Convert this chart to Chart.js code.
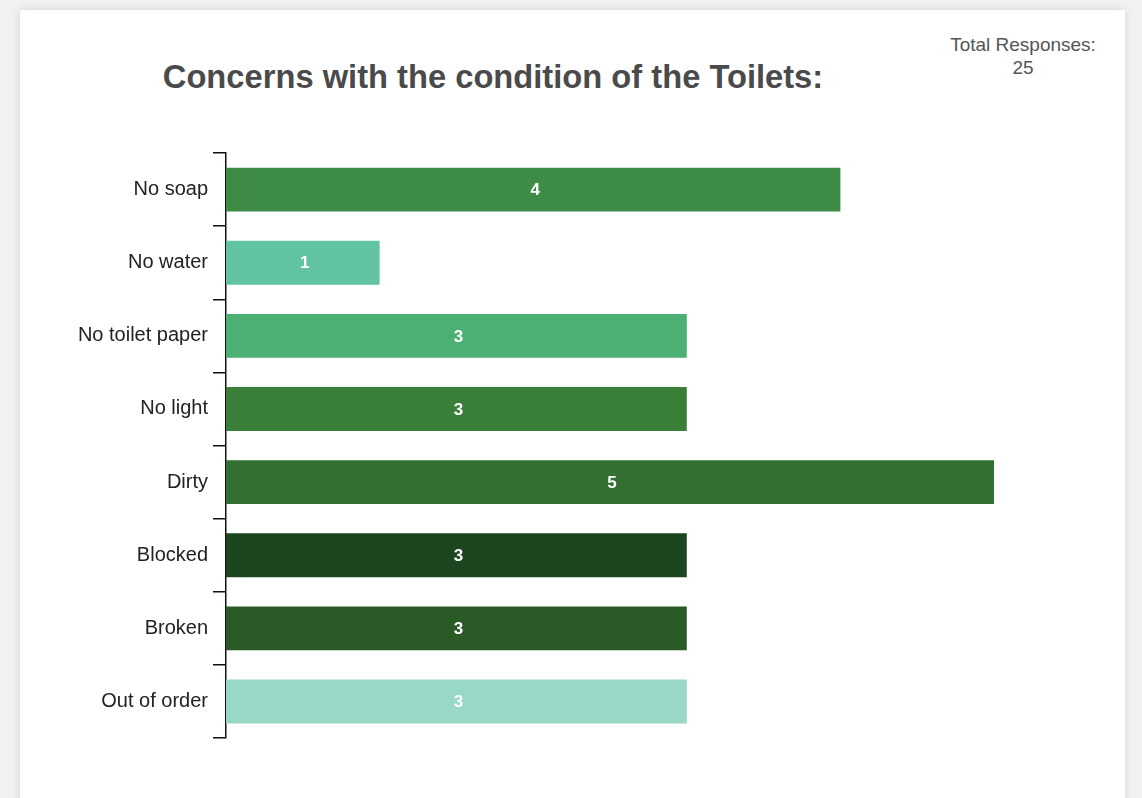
<!DOCTYPE html>
<html>
<head>
<meta charset="utf-8">
<script src="https://cdn.jsdelivr.net/npm/chart.js@4.4.0/dist/chart.umd.min.js"></script>
<style>
    html, body { margin: 0; padding: 0; background: #f1f1f1; }
    body { width: 1142px; height: 798px; position: relative; overflow: hidden; font-family: "Liberation Sans", Arial, sans-serif; }
    .card { position: absolute; left: 20px; top: 10px; width: 1105px; height: 800px; background: #fff; box-shadow: 0 0 8px rgba(0, 0, 0, 0.12); }
    .title { position: absolute; left: 0; width: 986px; top: 58px; text-align: center; font-size: 32.7px; font-weight: bold; color: #4a4a4a; }
    .total { position: absolute; left: 923px; width: 200px; top: 33px; text-align: center; font-size: 19px; line-height: 23px; color: #555; }
    #chart-wrap { position: absolute; left: 0; top: 0; width: 1142px; height: 798px; }
</style>
</head>
<body>
<div class="card"></div>
<div class="title">Concerns with the condition of the Toilets:</div>
<div class="total">Total Responses:<br>25</div>
<div id="chart-wrap"><canvas id="toilet-chart"></canvas></div>

<script>
    var categories = ['No soap', 'No water', 'No toilet paper', 'No light', 'Dirty', 'Blocked', 'Broken', 'Out of order'];
    var counts = [4, 1, 3, 3, 5, 3, 3, 3];
    var barColors = ['#3d8b45', '#62c3a3', '#4caf74', '#3a7f37', '#336f30', '#1c4620', '#2a5b27', '#99d7c7'];

    // draws the count in the middle of each bar
    var barValues = {
        id: 'barValues',
        afterDatasetsDraw: function (chart) {
            var ctx = chart.ctx;
            var meta = chart.getDatasetMeta(0);
            ctx.save();
            ctx.font = 'bold 17px "Liberation Sans", Arial, sans-serif';
            ctx.fillStyle = '#ffffff';
            ctx.textAlign = 'center';
            ctx.textBaseline = 'middle';
            meta.data.forEach(function (bar, i) {
                ctx.fillText(String(counts[i]), (bar.base + bar.x) / 2 + 2, bar.y + 1);
            });
            ctx.restore();
        }
    };

    var ctx = document.getElementById('toilet-chart').getContext('2d');
    var chart = new Chart(ctx, {
        type: 'bar', data: {
            labels: categories, datasets: [{
                data: counts,
                backgroundColor: barColors,
                barPercentage: 0.6,
                categoryPercentage: 1,
            }]
        }, options: {
            indexAxis: 'y', responsive: true, maintainAspectRatio: false, animation: false,
            layout: {
                padding: {top: 153, bottom: 60, right: 148, left: 0}
            },
            plugins: {
                legend: {display: false},
                tooltip: {enabled: false},
            }, scales: {
                x: {
                    display: false, min: 0, max: 5,
                }, y: {
                    afterFit: function (scale) {
                        scale.width = 226;
                    },
                    border: {display: true, color: '#111', width: 1.5},
                    grid: {
                        offset: true,
                        drawOnChartArea: false,
                        color: '#111',
                        lineWidth: 1.5,
                        tickLength: 13,
                    },
                    ticks: {
                        color: '#222',
                        padding: 5,
                        font: {family: '"Liberation Sans", Arial, sans-serif', size: 20}
                    }
                },
            }
        },
        plugins: [barValues]
    });
</script>
</body>
</html>
